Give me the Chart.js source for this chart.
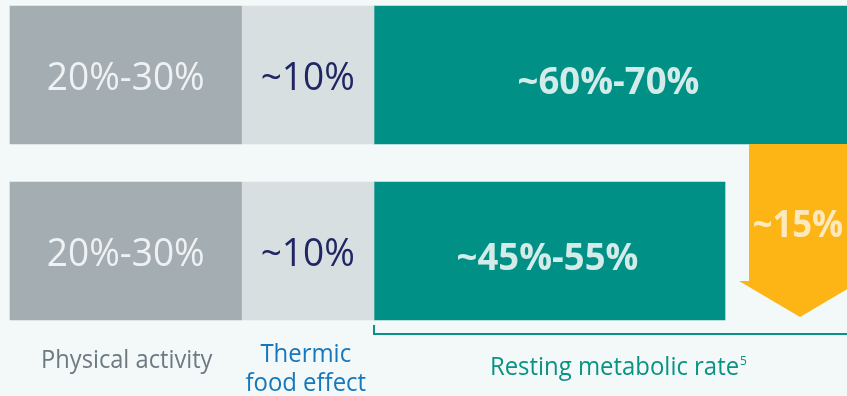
<!DOCTYPE html>
<html>
<head>
<meta charset="utf-8">
<script src="https://cdn.jsdelivr.net/npm/chart.js@4/dist/chart.umd.min.js"></script>
<style>
	html, body { margin: 0; padding: 0; background: #f3f8f8; }
	#wrap { width: 847px; height: 396px; }
</style>
</head>
<body>
<div id="wrap"><canvas id="myChart" width="847" height="396"></canvas></div>
<script>
// rows: current intake vs. after weight loss
const rows = ['Before', 'After'];
// segment lengths as drawn (chart units)
const physicalActivity = [23.15, 23.15];
const thermicEffect = [13.25, 13.25];
const restingRate = [47.3, 35.1];

const activityText = ['20%-30%', '20%-30%'];
const thermicText = ['~10%', '~10%'];
const restingText = ['~60%-70%', '~45%-55%'];

const dropText = '~15%';
const dropCenter = 79; // x position of the arrow, chart units
const dropShaft = 5.1;
const dropHead = 6.1;

const categoryNames = [['Physical activity'], ['Thermic', 'food effect'], ['Resting metabolic rate']];
const categoryColors = ['#6d7a82', '#1677bd', '#0a9384'];

const colors = ['#a4adb2', '#d8dfe1', '#009086'];
const FONT = '"Open Sans", sans-serif';

const segmentText = [activityText, thermicText, restingText];
const segmentStyle = [
	{ color: '#eef2f3', weight: 'normal', size: 38, sx: 0.975, dy: 15 },
	{ color: '#1f2663', weight: 'normal', size: 38, sx: 0.975, dy: 15 },
	{ color: '#d3ece9', weight: 'bold', size: 38, sx: 0.96, dy: 19 }
];

// text squeezed a little horizontally, like the condensed face in the picture
function squeezed(ctx, text, x, y, sx, align) {
	ctx.save();
	ctx.translate(x, y);
	ctx.scale(sx, 1);
	ctx.textAlign = align || 'center';
	ctx.textBaseline = 'alphabetic';
	ctx.fillText(text, 0, 0);
	ctx.restore();
}

const overlay = {
	id: 'overlay',
	afterDatasetsDraw(chart) {
		const ctx = chart.ctx;
		const x = chart.scales.x;

		// labels inside the bars
		chart.data.datasets.forEach((ds, di) => {
			const meta = chart.getDatasetMeta(di);
			const st = segmentStyle[di];
			meta.data.forEach((bar, i) => {
				const cx = (bar.x + bar.base) / 2;
				ctx.save();
				ctx.font = st.weight + ' ' + st.size + 'px ' + FONT;
				ctx.fillStyle = st.color;
				squeezed(ctx, segmentText[di][i], cx - (di === 2 ? 2 : 0), bar.y + st.dy, st.sx);
				ctx.restore();
			});
		});

		// down arrow for the drop in resting rate
		const top = chart.getDatasetMeta(0).data[0];
		const low = chart.getDatasetMeta(0).data[1];
		const yTop = top.y + top.height / 2;
		const yTip = low.y + low.height / 2 - 3;
		const yHead = yTip - 36;
		const xc = x.getPixelForValue(dropCenter);
		const sw = x.getPixelForValue(dropCenter + dropShaft) - xc;
		const hw = x.getPixelForValue(dropCenter + dropHead) - xc;
		ctx.save();
		ctx.fillStyle = '#fdb515';
		ctx.beginPath();
		ctx.moveTo(xc - sw, yTop);
		ctx.lineTo(xc + sw, yTop);
		ctx.lineTo(xc + sw, yHead);
		ctx.lineTo(xc + hw, yHead);
		ctx.lineTo(xc, yTip);
		ctx.lineTo(xc - hw, yHead);
		ctx.lineTo(xc - sw, yHead);
		ctx.closePath();
		ctx.fill();
		ctx.font = 'bold 38px ' + FONT;
		ctx.fillStyle = '#fde9bd';
		squeezed(ctx, dropText, xc - 2, 237, 0.91);
		ctx.restore();

		// bracket under the resting metabolic rate
		const rmrStart = x.getPixelForValue(physicalActivity[0] + thermicEffect[0]);
		const rmrEnd = x.getPixelForValue(physicalActivity[0] + thermicEffect[0] + restingRate[0]);
		ctx.save();
		ctx.strokeStyle = '#0a9384';
		ctx.lineWidth = 2;
		ctx.beginPath();
		ctx.moveTo(rmrStart, 325);
		ctx.lineTo(rmrStart, 334);
		ctx.lineTo(rmrEnd, 334);
		ctx.stroke();
		ctx.restore();

		// category names under the top row segments
		chart.data.datasets.forEach((ds, di) => {
			const bar = chart.getDatasetMeta(di).data[0];
			const cx = (bar.x + bar.base) / 2;
			const lines = categoryNames[di];
			ctx.save();
			ctx.font = '26px ' + FONT;
			ctx.fillStyle = categoryColors[di];
			if (lines.length === 2) {
				squeezed(ctx, lines[0], cx - 2, 362, 0.92);
				squeezed(ctx, lines[1], cx - 2, 391, 0.92);
			} else if (di === 0) {
				squeezed(ctx, lines[0], cx + 1, 368, 0.91);
			} else {
				const w = ctx.measureText(lines[0]).width * 0.92;
				const tx = cx + 4;
				squeezed(ctx, lines[0], tx, 375, 0.92);
				ctx.font = '13px ' + FONT;
				squeezed(ctx, '5', tx + w / 2 + 1, 365, 0.92, 'left');
			}
			ctx.restore();
		});
	}
};

new Chart(document.getElementById('myChart'), {
	type: 'bar',
	data: {
		labels: rows,
		datasets: [
			{ label: 'Physical activity', data: physicalActivity, backgroundColor: colors[0] },
			{ label: 'Thermic food effect', data: thermicEffect, backgroundColor: colors[1] },
			{ label: 'Resting metabolic rate', data: restingRate, backgroundColor: colors[2] }
		].map(d => Object.assign(d, { barThickness: 138, borderWidth: 0, clip: false }))
	},
	options: {
		indexAxis: 'y',
		responsive: false,
		animation: false,
		layout: { padding: { left: 10, right: 0, top: 75, bottom: 145 } },
		scales: {
			x: { stacked: true, min: 0, max: 83.7, display: false },
			y: { stacked: true, offset: false, display: false }
		},
		plugins: {
			legend: { display: false },
			tooltip: { enabled: false }
		}
	},
	plugins: [overlay]
});
</script>
</body>
</html>
